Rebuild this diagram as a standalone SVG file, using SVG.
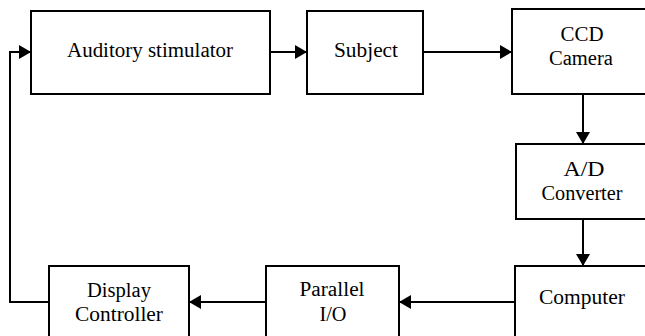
<svg xmlns="http://www.w3.org/2000/svg" width="645" height="336" viewBox="0 0 645 336">
<style>
.box{fill:#fff;stroke:#000;stroke-width:2}
.t{font-family:'Liberation Serif','DejaVu Serif','Times New Roman',serif;font-size:20px;fill:#000;text-anchor:middle}
.c{fill:none;stroke:#000;stroke-width:2}
</style>
<defs>
<marker id="ah" viewBox="0 0 12 14" refX="12" refY="7" markerWidth="12" markerHeight="14" markerUnits="userSpaceOnUse" orient="auto">
<path d="M0,0 L12,7 L0,14 z" fill="#000"/>
</marker>
</defs>
<rect width="645" height="336" fill="#fff"/>
<g id="connectors">
<line class="c" x1="270" y1="52" x2="307" y2="52" marker-end="url(#ah)"/>
<line class="c" x1="423" y1="52" x2="512" y2="52" marker-end="url(#ah)"/>
<line class="c" x1="583" y1="94" x2="583" y2="144" marker-end="url(#ah)"/>
<line class="c" x1="583" y1="219" x2="583" y2="266" marker-end="url(#ah)"/>
<line class="c" x1="515" y1="302" x2="399" y2="302" marker-end="url(#ah)"/>
<line class="c" x1="266" y1="302" x2="189" y2="302" marker-end="url(#ah)"/>
<polyline class="c" points="49,302 10,302 10,52 31,52" marker-end="url(#ah)"/>
</g>
<g id="auditory">
<rect class="box" x="31" y="11" width="239" height="83"/>
<text class="t" x="150" y="57" textLength="166" lengthAdjust="spacingAndGlyphs">Auditory stimulator</text>
</g>
<g id="subject">
<rect class="box" x="307" y="11" width="116" height="83"/>
<text class="t" x="366" y="57" textLength="64" lengthAdjust="spacingAndGlyphs">Subject</text>
</g>
<g id="ccd">
<rect class="box" x="512" y="9" width="142" height="85"/>
<text class="t" x="582" y="41" textLength="43" lengthAdjust="spacingAndGlyphs">CCD</text>
<text class="t" x="581" y="65" textLength="64" lengthAdjust="spacingAndGlyphs">Camera</text>
</g>
<g id="adc">
<rect class="box" x="516" y="144" width="134" height="75"/>
<text class="t" x="584" y="176" textLength="41" lengthAdjust="spacingAndGlyphs">A/D</text>
<text class="t" x="582" y="200" textLength="81" lengthAdjust="spacingAndGlyphs">Converter</text>
</g>
<g id="computer">
<rect class="box" x="515" y="266" width="136" height="80"/>
<text class="t" x="582" y="304" textLength="86" lengthAdjust="spacingAndGlyphs">Computer</text>
</g>
<g id="parallel">
<rect class="box" x="266" y="266" width="133" height="80"/>
<text class="t" x="332" y="296" textLength="65" lengthAdjust="spacingAndGlyphs">Parallel</text>
<text class="t" x="333" y="321" textLength="27" lengthAdjust="spacingAndGlyphs">I/O</text>
</g>
<g id="display">
<rect class="box" x="49" y="266" width="140" height="80"/>
<text class="t" x="119" y="297" textLength="64" lengthAdjust="spacingAndGlyphs">Display</text>
<text class="t" x="119" y="321" textLength="88" lengthAdjust="spacingAndGlyphs">Controller</text>
</g>
</svg>
